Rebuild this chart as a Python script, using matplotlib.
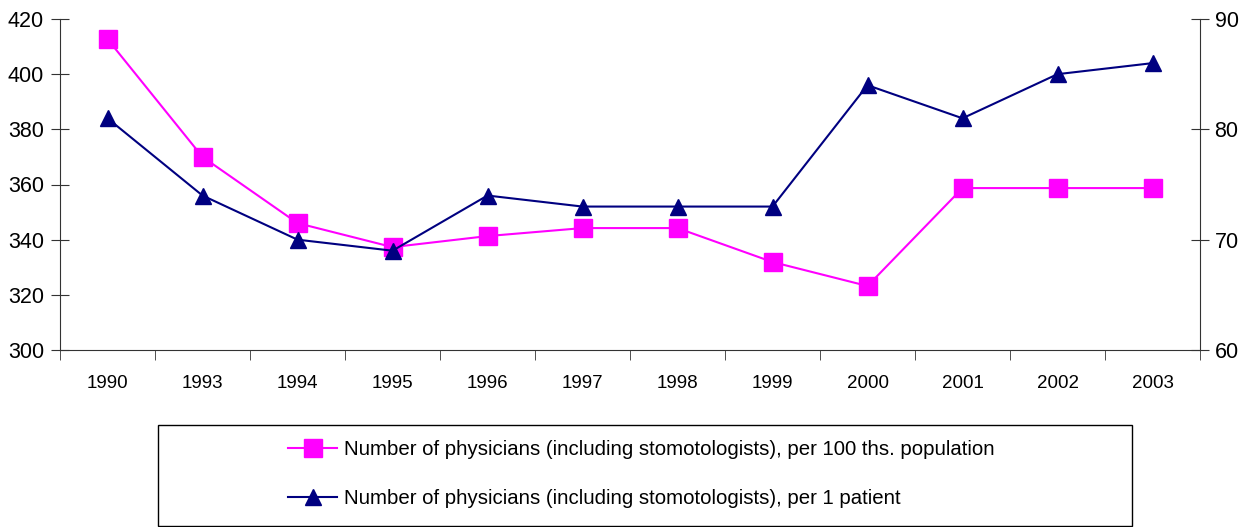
import numpy as np
import matplotlib.pyplot as plt
from matplotlib.patches import Rectangle

plt.rcParams['font.family'] = ['Liberation Sans', 'DejaVu Sans']

years = ['1990', '1993', '1994', '1995', '1996', '1997', '1998',
         '1999', '2000', '2001', '2002', '2003']
per_100k = [412.7, 370, 346, 337.3, 341.3, 344.2, 344.2, 331.9, 323.2, 358.7, 358.7, 358.7]
per_patient = [81, 74, 70, 69, 74, 73, 73, 73, 84, 81, 85, 86]

lbl1 = 'Number of physicians (including stomotologists), per 100 ths. population'
lbl2 = 'Number of physicians (including stomotologists), per 1 patient'

fig = plt.figure(figsize=(12.51, 5.27), dpi=100)
ax = fig.add_axes([60/1251, 1-350/527, 1140/1251, 331/527])
ax2 = ax.twinx()

x = np.arange(len(years))
l1, = ax.plot(x, per_100k, color='#FF00FF', marker='s', markersize=12.5, lw=1.5,
              label=lbl1, zorder=3)
l2, = ax2.plot(x, per_patient, color='#000080', marker='^', markersize=11, lw=1.5,
               label=lbl2, zorder=4)

ax.set_xlim(-0.5, len(years)-0.5)
ax.set_ylim(300, 420)
ax.set_yticks(range(300, 421, 20))
ax2.set_ylim(60, 90)
ax2.set_yticks([60, 70, 80, 90])

ax.set_xticks(x)
ax.set_xticklabels(years, fontsize=13.5)
ax.tick_params(axis='x', which='major', length=0, pad=18)
ax.set_xticks(np.arange(-0.5, len(years), 1), minor=True)
ax.tick_params(axis='x', which='minor', length=7, direction='out', color='#333333')
ax.tick_params(axis='y', labelsize=15.5, direction='inout', length=13, pad=5, color='#333333')
ax2.tick_params(axis='y', labelsize=15.5, direction='inout', length=13, pad=4, color='#333333')

for a in (ax, ax2):
    a.spines['top'].set_visible(False)
    for s in ('left', 'right', 'bottom'):
        a.spines[s].set_color('#333333')
ax.spines['right'].set_visible(False)
ax2.spines['left'].set_visible(False)
ax2.spines['bottom'].set_visible(False)

fig.patches.append(Rectangle((158/1251, 1/527), 974/1251, 101/527,
                             transform=fig.transFigure, fill=False,
                             edgecolor='black', lw=1))
fig.legend([l1, l2], [lbl1, lbl2], loc='center left',
           bbox_to_anchor=(270/1251, 1-474/527), frameon=False, fontsize=14.7,
           handlelength=2.4, handletextpad=0.3, labelspacing=1.45)

fig.savefig('out.png', dpi=100)
